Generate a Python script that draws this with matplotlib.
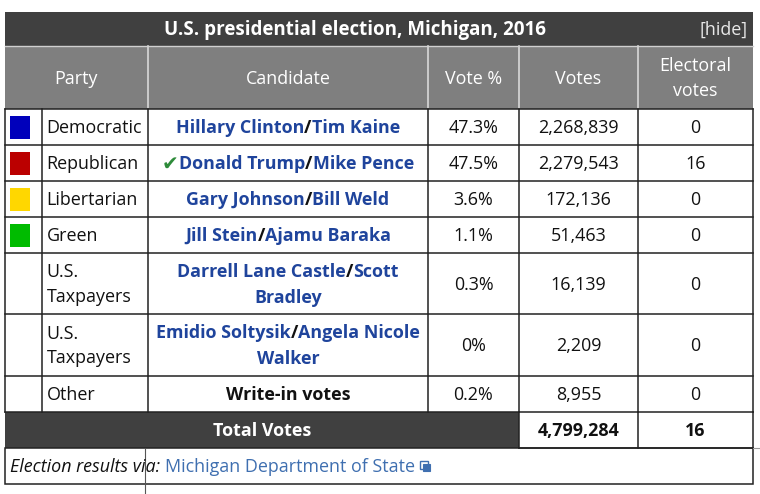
import matplotlib
matplotlib.use('Agg')
import matplotlib.pyplot as plt
from matplotlib.patches import Rectangle

plt.rcParams['font.family'] = ['Open Sans', 'DejaVu Sans']

title = 'U.S. presidential election, Michigan, 2016'
headers = ['Party', 'Candidate', 'Vote %', 'Votes', 'Electoral\nvotes']
parties = ['Democratic', 'Republican', 'Libertarian', 'Green',
           'U.S.\nTaxpayers', 'U.S.\nTaxpayers', 'Other']
party_colors = ['#0000bb', '#bb0000', '#ffd700', '#00bb00', None, None, None]
candidates = [
    [('Hillary Clinton', 'Tim Kaine')],
    [('Donald Trump', 'Mike Pence')],
    [('Gary Johnson', 'Bill Weld')],
    [('Jill Stein', 'Ajamu Baraka')],
    [('Darrell Lane Castle', 'Scott'), ('Bradley', None)],
    [('Emidio Soltysik', 'Angela Nicole'), ('Walker', None)],
    [('Write-in votes', None)],
]
winner = 1
vote_pct = ['47.3%', '47.5%', '3.6%', '1.1%', '0.3%', '0%', '0.2%']
votes = [2268839, 2279543, 172136, 51463, 16139, 2209, 8955]
electoral = [0, 16, 0, 0, 0, 0, 0]
total_votes = 4799284
total_electoral = 16
source_text = 'Election results via: '
source_link = 'Michigan Department of State'

# layout (pixels)
W, H = 760, 494
cols = [5, 41.5, 148, 428, 519, 638, 752.5]
bounds = [109, 145, 181, 217, 253, 314, 376, 412]
title_top, head_top, total_bot, foot_bot = 12, 46, 448, 484
FS = 12.9
link_blue = '#1f449c'

fig = plt.figure(figsize=(W / 100, H / 100), dpi=100)
ax = fig.add_axes([0, 0, 1, 1])
ax.set_xlim(0, W)
ax.set_ylim(H, 0)
ax.axis('off')
fig.canvas.draw()
rend = fig.canvas.get_renderer()


def width(s, **kw):
    t = ax.text(0, 0, s, **kw)
    w = t.get_window_extent(renderer=rend).width
    t.remove()
    return w


def rect(x0, y0, x1, y1, fc, ec='none', lw=0):
    ax.add_patch(Rectangle((x0, y0), x1 - x0, y1 - y0, facecolor=fc,
                           edgecolor=ec, linewidth=lw))


# title bar
rect(cols[0], title_top, cols[-1], head_top, '#404040')
ax.text(355, (title_top + head_top) / 2 + 1, title, color='white',
        fontsize=FS + 0.6, fontweight='bold', ha='center', va='center')
ax.text(748, (title_top + head_top) / 2 + 1, '[hide]', color='#e8e8e8',
        fontsize=FS, ha='right', va='center')

# header
rect(cols[0], head_top, cols[-1], bounds[0], '#7f7f7f')
head_x = [(cols[0] + cols[2]) / 2] + [(cols[i] + cols[i + 1]) / 2 for i in range(2, 6)]
for x, h in zip(head_x, headers):
    ax.text(x, (head_top + bounds[0]) / 2 + 1, h, color='white', fontsize=FS,
            ha='center', va='center', linespacing=1.5)
for x in cols[2:-1]:
    ax.plot([x, x], [head_top, bounds[0]], color='#d8d8d8', lw=1.2)
ax.plot([cols[0], cols[-1]], [head_top, head_top], color='#d0d0d0', lw=1.0)

# body rows
for i in range(len(parties)):
    y0, y1 = bounds[i], bounds[i + 1]
    yc = (y0 + y1) / 2 + 1
    if party_colors[i]:
        rect(10, yc - 12.5, 30, yc + 10.5, party_colors[i])
    ax.text(cols[1] + 5, yc, parties[i], fontsize=FS, color='#111111',
            ha='left', va='center', linespacing=1.48)
    lines = candidates[i]
    n = len(lines)
    cx = (cols[2] + cols[3]) / 2
    for k, (a, b) in enumerate(lines):
        ly = yc + (k - (n - 1) / 2) * 26
        if b is None and n == 1:
            pieces = [(a, '#111111')]
        else:
            pieces = [(a, link_blue)]
            if b:
                pieces += [('/', '#111111'), (b, link_blue)]
        ws = [width(p, fontsize=FS, fontweight='bold') for p, c in pieces]
        if i == winner:
            pieces = [('\u2714', '#2e8b3a')] + pieces
            ws = [width('\u2714', fontsize=FS + 1.5, family='DejaVu Sans')] + ws
        x = cx - sum(ws) / 2
        for (p, c), w in zip(pieces, ws):
            if p == '\u2714':
                ax.text(x, ly, p, fontsize=FS + 1.5, color=c, family='DejaVu Sans',
                        ha='left', va='center')
            else:
                ax.text(x, ly, p, fontsize=FS, fontweight='bold', color=c,
                        ha='left', va='center')
            x += w
    ax.text((cols[3] + cols[4]) / 2, yc, vote_pct[i], fontsize=FS,
            color='#111111', ha='center', va='center')
    ax.text((cols[4] + cols[5]) / 2, yc, f'{votes[i]:,}', fontsize=FS,
            color='#111111', ha='center', va='center')
    ax.text((cols[5] + cols[6]) / 2, yc, str(electoral[i]), fontsize=FS,
            color='#111111', ha='center', va='center')

body_top, body_bot = bounds[0], bounds[-1]
for y in bounds:
    ax.plot([cols[0], cols[-1]], [y, y], color='#222222', lw=1.1)
for x in cols:
    ax.plot([x, x], [body_top, body_bot], color='#222222', lw=1.1)

# total row
rect(cols[0], body_bot, cols[4], total_bot, '#404040')
ty = (body_bot + total_bot) / 2 + 1
ax.text((cols[0] + cols[4]) / 2, ty, 'Total Votes',
        color='white', fontsize=FS, fontweight='bold', ha='center', va='center')
ax.text((cols[4] + cols[5]) / 2, ty, f'{total_votes:,}',
        color='#111111', fontsize=FS, fontweight='bold', ha='center', va='center')
ax.text((cols[5] + cols[6]) / 2, ty, str(total_electoral),
        color='#111111', fontsize=FS, fontweight='bold', ha='center', va='center')
for x in [cols[4], cols[5], cols[6]]:
    ax.plot([x, x], [body_bot, total_bot], color='#222222', lw=1.1)
ax.plot([cols[4], cols[-1]], [total_bot, total_bot], color='#222222', lw=1.1)

# footer
ax.add_patch(Rectangle((cols[0], total_bot), cols[-1] - cols[0], foot_bot - total_bot,
                       facecolor='white', edgecolor='#222222', linewidth=1.1))
fy = (total_bot + foot_bot) / 2 + 1
w1 = width(source_text, fontsize=FS, style='italic')
ax.text(10, fy, source_text, fontsize=FS, style='italic', color='#111111',
        ha='left', va='center')
ax.text(10 + w1, fy, source_link, fontsize=FS, color='#3f6fb0',
        ha='left', va='center')
w2 = width(source_link, fontsize=FS)
ix = 10 + w1 + w2 + 5
rect(ix, fy - 6, ix + 8, fy + 2, 'white', '#3f6fb0', 1.0)
rect(ix + 3, fy - 3, ix + 10, fy + 4, '#3f6fb0', '#3f6fb0', 0.8)
ax.plot([145, 145], [total_bot, H], color='#555555', lw=0.8)
ax.plot([cols[-1], W], [total_bot, total_bot], color='#999999', lw=0.8)

fig.savefig('out.png', dpi=100)
